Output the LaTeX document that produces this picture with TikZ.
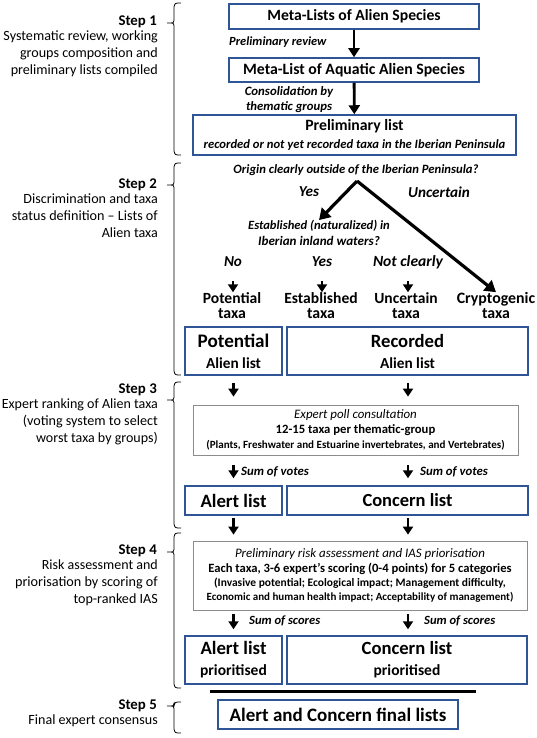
\documentclass[tikz,border=0pt]{standalone}
\usepackage{fontspec}
\usepackage{graphicx}
\setmainfont{Carlito}
\usetikzlibrary{arrows.meta,shadows}
\definecolor{boxblue}{RGB}{47,85,151}
\newcommand\fsz[2]{\fontsize{#1}{#2}\selectfont}
\newcommand\fw[2]{\resizebox{#1pt}{!}{#2}}
\newlength\mylen
\newcommand\scaleof[3]{\settowidth\mylen{#3}\pgfmathsetmacro#1{#2/\mylen}}
\newcommand\stepbrace[3]{%
  \draw[line width=0.8pt] (181,#1) .. controls (175,#1) .. (174,#1+4) -- (174,#2-2.5)
     .. controls (174,#2) .. (167,#2) .. controls (174,#2) .. (174,#2+2.5) -- (174,#3-4)
     .. controls (175,#3) .. (181,#3);}
\begin{document}
\scaleof{\ansS}{61.7}{\bfseries\itshape\fsz{15}{17}Uncertain}%
\scaleof{\taxS}{78.3}{\bfseries\fsz{15}{15}Cryptogenic}%
\begin{tikzpicture}[x=1pt,y=-1pt,
  bx/.style={draw=boxblue,line width=1.5pt,fill=white,inner sep=0pt,align=center},
  gbx/.style={draw=black!45,line width=0.8pt,fill=white,inner sep=0pt,align=center,
     drop shadow={shadow xshift=1pt,shadow yshift=-1pt,opacity=0.35,fill=black}},
  steplbl/.style={anchor=east,inner sep=0pt,font=\bfseries\fsz{16}{19}},
  stepdesc/.style={anchor=north east,inner sep=0pt,align=right,font=\fsz{13.5}{17}},
  q/.style={inner sep=0pt,align=center,font=\bfseries\itshape\fsz{12.5}{16}},
  ans/.style={inner sep=0pt,font=\bfseries\itshape\fsz{15}{17}},
  taxa/.style={inner sep=0pt,align=center,font=\bfseries\fsz{15}{15}},
  lbl/.style={inner sep=0pt,anchor=west,font=\bfseries\itshape\fsz{13}{15}},
  arr/.style={line width=2.8pt,-{Triangle[width=11pt,length=9pt]}},
  sarr/.style={line width=2.6pt,-{Triangle[width=10pt,length=8pt]}},
  darr/.style={line width=3.2pt,-{Triangle[width=13pt,length=11pt]}}]
\useasboundingbox (0,0) rectangle (536,738);

% ---- step labels and braces
\node[steplbl] (s1) at (157,22) {\fw{38.3}{Step 1}};
\node[stepdesc] (d1) at (158,31) {\fw{154.3}{Systematic review, working}\\\fw{137.7}{groups composition and}\\\fw{147}{preliminary lists compiled}};
\stepbrace{3}{23}{155}
\node[steplbl] (s2) at (157,185) {\fw{38.3}{Step 2}};
\node[stepdesc] (d2) at (158,194) {\fw{134.3}{Discrimination and taxa}\\\fw{146}{status definition -- Lists of}\\\fw{56}{Alien taxa}};
\stepbrace{163}{185}{375}
\node[steplbl] (s3) at (157,390) {\fw{38.3}{Step 3}};
\node[stepdesc] (d3) at (158,399) {\fw{156}{Expert ranking of Alien taxa}\\\fw{135}{(voting system to select}\\\fw{121.7}{worst taxa by groups)}};
\stepbrace{382}{400}{528}
\node[steplbl] (s4) at (157,551) {\fw{38.3}{Step 4}};
\node[stepdesc] (d4) at (158,560) {\fw{116}{Risk assessment and}\\\fw{142.7}{priorisation by scoring of}\\\fw{84.3}{top-ranked IAS}};
\stepbrace{533}{552}{688}
\node[steplbl] (s5) at (157,706) {\fw{38.3}{Step 5}};
\node[stepdesc] (d5) at (158,715) {\fw{129.3}{Final expert consensus}};
\stepbrace{702}{706}{733}

% ---- step 1
\node[bx,minimum width=250pt,minimum height=25pt,font=\bfseries\fsz{15.5}{18}] (b1) at (354,16.5) {\fw{173.3}{Meta-Lists of Alien Species}};
\node[bx,minimum width=250pt,minimum height=24pt,font=\bfseries\fsz{15.5}{18}] (b2) at (354,70) {\fw{221.7}{Meta-List of Aquatic Alien Species}};
\node[bx,minimum width=323pt,minimum height=40pt,font=\bfseries\fsz{16.5}{17.5}] (b3) at (354.5,135)
  {\fw{98.3}{Preliminary list}\\\fw{301.7}{\itshape\fsz{12}{15}recorded or not yet recorded taxa in the Iberian Peninsula}};
\node[lbl] (l1) at (229,42) {\fw{97.3}{Preliminary review}};
\node[q,font=\bfseries\itshape\fsz{13}{15}] (l2) at (289,99.5) {\fw{88.3}{Consolidation by}\\\fw{86}{thematic groups}};
\draw[arr] (b1) -- (b2);
\draw[arr] (b2) -- (b3);

% ---- step 2
\node[q] (q1) at (356,170) {\fw{245}{Origin clearly outside of the Iberian Peninsula?}};
\coordinate (apex) at (357,181);
\node[ans] (yes1) at (309,192) {\scalebox{\ansS}{Yes}};
\node[ans] (unc) at (439,192) {\fw{61.7}{Uncertain}};
\node[q] (q2) at (319,233) {\fw{141.7}{Established (naturalized) in}\\\fw{121.7}{Iberian inland waters?}};
\node[ans] (no) at (233,262) {\scalebox{\ansS}{No}};
\node[ans] (yes2) at (322,262) {\scalebox{\ansS}{Yes}};
\node[ans] (notc) at (408,262) {\fw{70}{Not clearly}};
\node[taxa] (tpot) at (232,305.5) {\fw{58.3}{Potential}\\\scalebox{\taxS}{taxa}};
\node[taxa] (test) at (321,305.5) {\fw{73.3}{Established}\\\scalebox{\taxS}{taxa}};
\node[taxa] (tunc) at (406,305.5) {\fw{63.3}{Uncertain}\\\scalebox{\taxS}{taxa}};
\node[taxa] (tcry) at (496,305.5) {\fw{78.3}{Cryptogenic}\\\scalebox{\taxS}{taxa}};
\draw[darr] (apex) -- (q2.north);
\draw[darr] (apex) -- (tcry.north);
\draw[sarr] ([yshift=11pt]tpot.north -| no) -- (tpot.north -| no);
\draw[sarr] ([yshift=11pt]test.north -| yes2) -- (test.north -| yes2);
\draw[sarr] ([yshift=11pt]tunc.north -| notc) -- (tunc.north -| notc);

\node[bx,minimum width=97pt,minimum height=48pt,font=\bfseries\fsz{19}{21}] (pot) at (233.5,351)
  {\fw{71.7}{Potential}\\\fw{55}{Alien list}};
\node[bx,minimum width=241pt,minimum height=48pt,font=\bfseries\fsz{19}{21}] (rec) at (407.5,351)
  {\fw{73.3}{Recorded}\\\fw{55}{Alien list}};

% ---- step 3
\node[gbx,minimum width=325pt,minimum height=50pt,font=\fsz{13}{15}] (g1) at (355.5,430)
  {\fw{122.7}{\itshape Expert poll consultation}\\\fw{159.7}{\bfseries 12-15 taxa per thematic-group}\\\fw{298.3}{\bfseries (Plants, Freshwater and Estuarine invertebrates, and Vertebrates)}};
\draw[sarr,shorten <=7pt,shorten >=8pt] (pot.south) -- (pot.south |- g1.north);
\draw[sarr,shorten <=7pt,shorten >=8pt] (rec.south -| 408,0) -- (g1.north -| 408,0);
\node[bx,minimum width=97pt,minimum height=29pt,font=\bfseries\fsz{19}{20}] (al) at (233.5,500.5) {\fw{66}{Alert list}};
\node[bx,minimum width=241pt,minimum height=29pt,font=\bfseries\fsz{19}{20}] (co) at (407.5,500.5) {\fw{90}{Concern list}};
\draw[sarr,shorten <=10pt,shorten >=7pt] (g1.south -| al) -- (al.north);
\draw[sarr,shorten <=10pt,shorten >=7pt] (g1.south -| 408,0) -- (co.north -| 408,0);
\node[lbl] (sv1) at (241,472) {\fw{67.7}{Sum of votes}};
\node[lbl] (sv2) at (420,472) {\fw{67.7}{Sum of votes}};

% ---- step 4
\node[gbx,minimum width=334pt,minimum height=69pt,font=\fsz{13}{14.3}] (g2) at (360,575.5)
  {\fw{250}{\itshape Preliminary risk assessment and IAS priorisation}\\[0.5pt]\fw{303.3}{\bfseries Each taxa, 3-6 expert’s scoring (0-4 points) for 5 categories}\\\fw{291.7}{\bfseries (Invasive potential; Ecological impact; Management difficulty,}\\[-1pt]\fw{306.7}{\bfseries Economic and human health impact; Acceptability of management)}};
\draw[sarr,shorten <=2pt,shorten >=6pt] (al.south) -- (al.south |- g2.north);
\draw[sarr,shorten <=2pt,shorten >=6pt] (co.south -| 408,0) -- (g2.north -| 408,0);
\node[bx,minimum width=97pt,minimum height=48pt,font=\bfseries\fsz{19}{21}] (alp) at (233.5,660)
  {\fw{66}{Alert list}\\\fw{66.7}{prioritised}};
\node[bx,minimum width=240pt,minimum height=48pt,font=\bfseries\fsz{19}{21}] (cop) at (407,660)
  {\fw{90.7}{Concern list}\\\fw{66.7}{prioritised}};
\draw[sarr,shorten <=4pt,shorten >=6pt] (g2.south -| alp) -- (alp.north);
\draw[sarr,shorten <=4pt,shorten >=6pt] (g2.south -| 408,0) -- (cop.north -| 408,0);
\node[lbl] (ss1) at (249,621) {\fw{71}{Sum of scores}};
\node[lbl] (ss2) at (424,621) {\fw{71}{Sum of scores}};

% ---- step 5
\coordinate (ll) at (210,691);
\coordinate (lr) at (476,691);
\draw[line width=3pt] (ll) -- (lr);
\node[bx,minimum width=240pt,minimum height=29pt,font=\bfseries\fsz{19}{20}] (fin) at (338,714.5) {\fw{216.7}{Alert and Concern final lists}};
\end{tikzpicture}
\end{document}
